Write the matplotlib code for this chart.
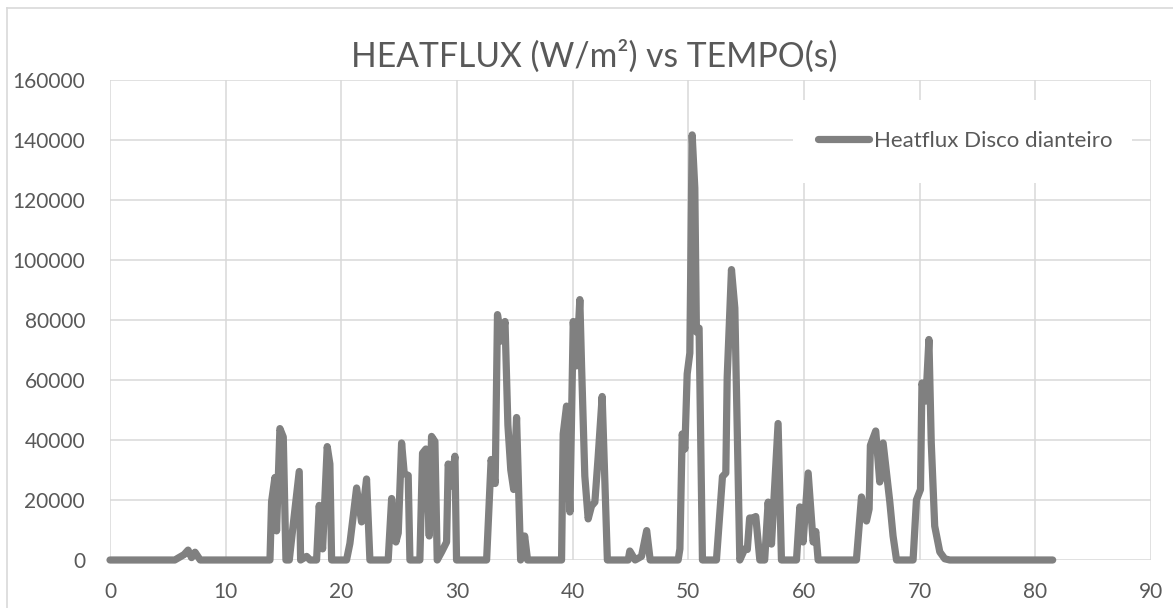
import matplotlib
matplotlib.use("Agg")
import matplotlib.pyplot as plt
from matplotlib.lines import Line2D
from matplotlib.patches import Rectangle

# ---- data ----
tempo = [0, 5.6, 6.05, 6.4, 6.75, 7.05, 7.35, 7.8,
         13.83, 13.97, 14.26, 14.4, 14.69, 14.98, 15.21, 15.5, 15.7, 16.36, 16.48, 17.0, 17.3,
         17.86, 18.09, 18.38, 18.78, 19.01, 19.16,
         20.45, 20.74, 21.32, 21.75, 22.18, 22.47,
         24.05, 24.35, 24.72, 24.92, 25.21, 25.44, 25.78, 25.93,
         26.79, 27.02, 27.31, 27.6, 27.8, 28.09, 28.29, 28.67, 29.1, 29.24, 29.53, 29.82, 29.96,
         32.56, 32.95, 33.3, 33.5, 33.85, 34.15, 34.4, 34.65, 34.9, 35.15, 35.3, 35.5, 35.85, 36.1,
         39.04, 39.18, 39.47, 39.76, 40.05, 40.33, 40.62, 40.77, 41.05, 41.34, 41.63, 41.92, 42.2, 42.55, 43.0,
         44.8, 44.94, 45.4, 45.95, 46.4, 46.7,
         49.12, 49.27, 49.47, 49.7, 49.9, 50.13, 50.33, 50.56, 50.7, 50.93, 51.22,
         52.43, 52.95, 53.24, 53.36, 53.73, 54.02, 54.45, 54.88, 55.1, 55.3, 55.6, 55.83, 56.18,
         56.6, 56.9, 57.19, 57.76, 58.05,
         59.35, 59.64, 59.92, 60.36, 60.79, 61.02, 61.22,
         64.53, 64.97, 65.4, 65.63, 65.74, 66.2, 66.55, 66.84, 67.42, 67.7, 68.0,
         69.43, 69.72, 70.07, 70.2, 70.53, 70.8, 71.0, 71.3, 71.74, 72.17, 72.6, 81.5]
heatflux = [0, 0, 1000, 1800, 3300, 800, 2600, 0,
            0, 19500, 27500, 9700, 43800, 41000, 0, 0, 7000, 29500, 0, 1200, 0,
            0, 18200, 3700, 37800, 32000, 0,
            0, 5500, 24000, 12700, 27000, 0,
            0, 20500, 6000, 9000, 39000, 28800, 28200, 0,
            0, 35600, 37000, 8000, 41200, 39500, 0, 2700, 6000, 32000, 24700, 34600, 0,
            0, 33500, 25500, 81800, 73000, 79500, 45000, 30000, 23500, 47500, 27000, 0, 8000, 0,
            0, 42000, 51300, 16000, 79500, 64700, 86800, 64700, 28000, 13700, 18000, 19300, 34200, 54500, 0,
            0, 3000, 0, 1200, 9800, 0,
            0, 3700, 42000, 37000, 62000, 69000, 141700, 124000, 76000, 77300, 0,
            0, 27800, 29000, 61000, 96800, 84000, 0, 3700, 3500, 14000, 14000, 14500, 0,
            0, 19300, 5300, 45500, 0,
            0, 17700, 6000, 29000, 6000, 9500, 0,
            0, 21000, 13000, 17000, 38200, 43000, 26000, 39000, 19300, 8000, 0,
            0, 20000, 23500, 59000, 53000, 73500, 39300, 11300, 2700, 400, 0, 0]
x_ticks = [0, 10, 20, 30, 40, 50, 60, 70, 80, 90]
y_ticks = [0, 20000, 40000, 60000, 80000, 100000, 120000, 140000, 160000]
titulo = "HEATFLUX (W/m²) vs TEMPO(s)"
serie = "Heatflux Disco dianteiro"

# ---- figure ----
W, H = 1173, 608
plt.rcParams['font.family'] = ['Lato', 'DejaVu Sans']
fig = plt.figure(figsize=(W / 100, H / 100), dpi=100)
fig.patch.set_facecolor('white')

def fx(px):
    return px / W

def fy(py):
    return 1 - py / H

ax = fig.add_axes([fx(110), fy(560), fx(1151) - fx(110), fy(80) - fy(560)])
ax.set_xlim(0, 90)
ax.set_ylim(0, 160000)
ax.set_xticks(x_ticks)
ax.set_yticks(y_ticks)
ax.set_xticklabels([str(v) for v in x_ticks])
ax.set_yticklabels([str(v) for v in y_ticks])
grid_c = '#d9d9d9'
ax.grid(True, color=grid_c, linewidth=1.1)
ax.set_axisbelow(True)
for s in ax.spines.values():
    s.set_visible(False)
ax.tick_params(axis='both', length=0, labelsize=15, colors='#595959')
ax.tick_params(axis='y', pad=18)
ax.tick_params(axis='x', pad=16)

ax.plot(tempo, heatflux, color='#808080', linewidth=5.2,
        solid_joinstyle='round', solid_capstyle='round', zorder=3, clip_on=False)

# legend white box covering grid lines
fig.patches.append(Rectangle((fx(793), fy(183)), fx(1132) - fx(793), fy(100) - fy(183),
                             transform=fig.transFigure, facecolor='white', edgecolor='none', zorder=1))
handle = Line2D([], [], color='#808080', linewidth=5.2, solid_capstyle='round')
leg = fig.legend([handle], [serie], loc='center left',
                 bbox_to_anchor=(fx(818), fy(141)), frameon=False, fontsize=16,
                 handlelength=2.3, handletextpad=0.22, borderpad=0, borderaxespad=0,
                 labelcolor='#595959')

# title
fig.text(fx(594), fy(67), titulo, ha='center', va='baseline', fontsize=24.2, color='#595959')

# chart outer border
fig.lines.append(Line2D([fx(7), fx(1173)], [fy(8), fy(8)], transform=fig.transFigure, color=grid_c, linewidth=1.2))
fig.lines.append(Line2D([fx(7), fx(7)], [fy(8), fy(608)], transform=fig.transFigure, color=grid_c, linewidth=1.2))

fig.savefig('out.png', dpi=100, facecolor='white')
